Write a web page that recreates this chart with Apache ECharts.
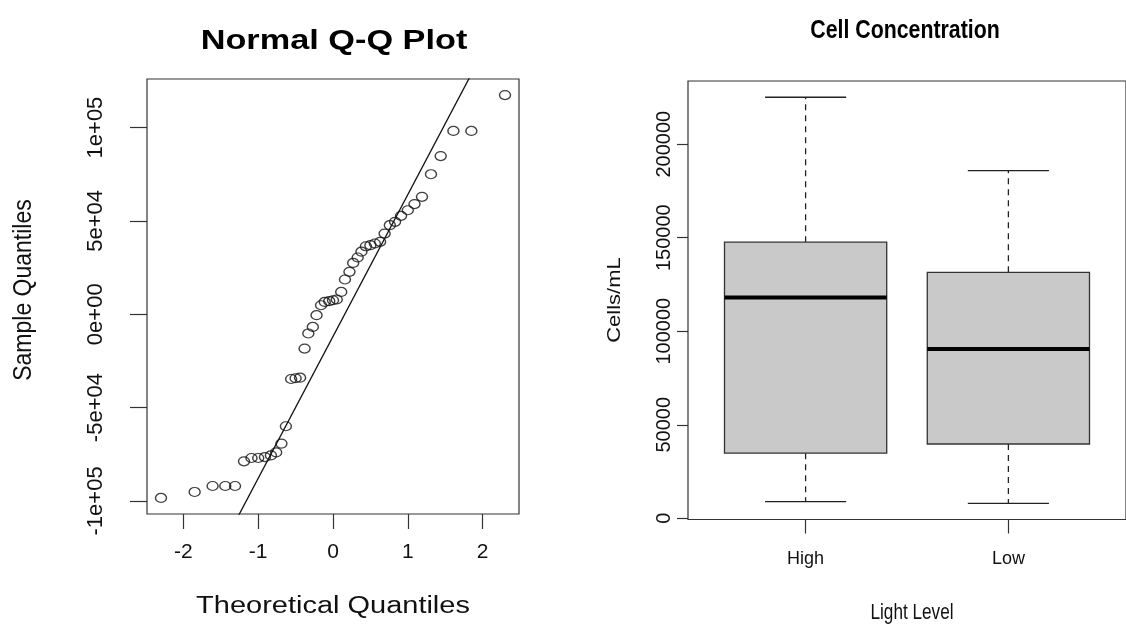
<!DOCTYPE html>
<html>
<head>
<meta charset="utf-8">
<style>
  html, body { margin: 0; padding: 0; background: #ffffff; }
  #chart { width: 1126px; height: 626px; }
</style>
<script src="https://cdn.jsdelivr.net/npm/echarts@6/dist/echarts.min.js"></script>
</head>
<body>
<div id="chart"></div>
<script>
// ---------- Normal Q-Q plot data ----------
const qqTheoretical = [-2.30,-1.85,-1.61,-1.44,-1.31,-1.19,-1.09,-1.00,-0.91,-0.83,-0.76,-0.69,-0.63,-0.56,-0.50,-0.44,-0.38,-0.33,-0.27,-0.22,-0.16,-0.11,-0.05,0.00,0.05,0.11,0.16,0.22,0.27,0.33,0.38,0.44,0.50,0.56,0.63,0.69,0.76,0.83,0.91,1.00,1.09,1.19,1.31,1.44,1.61,1.85,2.30];
const qqSample = [-98400,-95200,-92000,-92000,-92000,-78800,-77000,-77000,-76500,-75600,-74000,-69300,-60000,-34700,-34300,-34000,-18400,-10300,-6800,-500,4800,6600,7000,7500,7900,11950,18600,22700,27500,30400,33500,36400,37000,37900,38800,43200,47700,49500,52700,55700,59000,62900,75000,84700,98200,98200,117400];
const qqLineX = [-2.4, 2.4];
const qqLineY = [-194200, 170400];
const qqXTicks = [-2, -1, 0, 1, 2];
const qqYTicks = [-100000, -50000, 0, 50000, 100000];
const qqYTickLabels = ['-1e+05', '-5e+04', '0e+00', '5e+04', '1e+05'];

// ---------- Box plot data ----------
const lightLevels = ['High', 'Low'];
const lowerWhisker = [8900, 8000];
const firstQuartile = [34800, 39700];
const medians = [118000, 90500];
const thirdQuartile = [147600, 131500];
const upperWhisker = [225100, 185900];
const boxYTicks = [0, 50000, 100000, 150000, 200000];

const qqPoints = qqTheoretical.map((x, i) => [x, qqSample[i]]);
const qqLine = qqLineX.map((x, i) => [x, qqLineY[i]]);
const boxData = lightLevels.map((g, i) => [i + 1, lowerWhisker[i], firstQuartile[i], medians[i], thirdQuartile[i], upperWhisker[i]]);

const AX = '#333333';
const FONT = "'Liberation Sans', Arial, sans-serif";

const chart = echarts.init(document.getElementById('chart'), null, { renderer: 'canvas' });

function nearestLabel(v, vals, labels) {
  let best = 0;
  for (let i = 1; i < vals.length; i++) if (Math.abs(vals[i] - v) < Math.abs(vals[best] - v)) best = i;
  return labels[best];
}

const option = {
  animation: false,
  backgroundColor: '#ffffff',
  graphic: [
    { type: 'text', x: 334, y: 42, scaleX: 1.27, style: { text: 'Normal Q-Q Plot', font: "bold 27px 'Liberation Sans', Arial, sans-serif", fill: '#000', align: 'center', verticalAlign: 'middle' } },
    { type: 'text', x: 333, y: 607, scaleX: 1.26, style: { text: 'Theoretical Quantiles', font: "23px 'Liberation Sans', Arial, sans-serif", fill: '#111', align: 'center', verticalAlign: 'middle' } },
    { type: 'text', x: 24, y: 290, rotation: Math.PI / 2, scaleY: 1.15, style: { text: 'Sample Quantiles', font: "23px 'Liberation Sans', Arial, sans-serif", fill: '#111', align: 'center', verticalAlign: 'middle' } },
    { type: 'text', x: 905, y: 31, scaleX: 0.82, style: { text: 'Cell Concentration', font: "bold 26px 'Liberation Sans', Arial, sans-serif", fill: '#000', align: 'center', verticalAlign: 'middle' } },
    { type: 'text', x: 912, y: 613, scaleX: 0.78, style: { text: 'Light Level', font: "22px 'Liberation Sans', Arial, sans-serif", fill: '#111', align: 'center', verticalAlign: 'middle' } },
    { type: 'text', x: 615, y: 300, rotation: Math.PI / 2, scaleY: 0.85, style: { text: 'Cells/mL', font: "22px 'Liberation Sans', Arial, sans-serif", fill: '#111', align: 'center', verticalAlign: 'middle' } }
  ],
  grid: [
    { left: 147, top: 79, right: 607, bottom: 112, show: true, borderColor: AX, borderWidth: 1.2, backgroundColor: 'transparent' },
    { left: 688, top: 81, right: -10, bottom: 106.5, show: true, borderColor: AX, borderWidth: 1.2, backgroundColor: 'transparent' }
  ],
  xAxis: [
    {
      gridIndex: 0, type: 'value', min: -2.487, max: 2.487,
      axisLine: { show: false, onZero: false },
      splitLine: { show: false },
      axisTick: { show: true, length: 15, lineStyle: { color: AX, width: 1.2 }, customValues: qqXTicks },
      axisLabel: { show: true, customValues: qqXTicks, margin: 28, color: '#111', fontSize: 21, fontFamily: FONT, formatter: v => String(Math.round(v)) }
    },
    {
      gridIndex: 1, type: 'value', min: 0.42, max: 2.58,
      axisLine: { show: false, onZero: false },
      splitLine: { show: false },
      axisTick: { show: true, length: 14, lineStyle: { color: AX, width: 1.2 }, customValues: [1, 2] },
      axisLabel: { show: true, customValues: [1, 2], margin: 31, color: '#111', fontSize: 18, fontFamily: FONT, formatter: v => lightLevels[Math.round(v) - 1] }
    }
  ],
  yAxis: [
    {
      gridIndex: 0, type: 'value', min: -107000, max: 126000,
      axisLine: { show: false, onZero: false },
      splitLine: { show: false },
      axisTick: { show: true, length: 17, lineStyle: { color: AX, width: 1.2 }, customValues: qqYTicks },
      axisLabel: { show: true, customValues: qqYTicks, rotate: 90, margin: 40, color: '#111', fontSize: 22, fontFamily: FONT, formatter: v => nearestLabel(v, qqYTicks, qqYTickLabels) }
    },
    {
      gridIndex: 1, type: 'value', min: -660, max: 233800,
      axisLine: { show: false, onZero: false },
      splitLine: { show: false },
      axisTick: { show: true, length: 11, lineStyle: { color: AX, width: 1.2 }, customValues: boxYTicks },
      axisLabel: { show: true, customValues: boxYTicks, rotate: 90, margin: 14, color: '#111', fontSize: 20, fontFamily: FONT, formatter: v => String(Math.round(v)) }
    }
  ],
  series: [
    {
      type: 'line', xAxisIndex: 0, yAxisIndex: 0, data: qqLine, clip: true,
      showSymbol: false, symbol: 'none',
      lineStyle: { color: '#111', width: 1.3 }, z: 3
    },
    {
      type: 'scatter', xAxisIndex: 0, yAxisIndex: 0, data: qqPoints,
      symbol: 'circle', symbolSize: [11, 9],
      itemStyle: { color: 'rgba(0,0,0,0)', borderColor: '#111', borderWidth: 1.3 }, z: 4
    },
    {
      type: 'custom', xAxisIndex: 1, yAxisIndex: 1, data: boxData,
      encode: { x: 0, y: [1, 2, 3, 4, 5] },
      clip: false,
      renderItem: function (params, api) {
        const x = api.value(0);
        const pLow = api.coord([x, api.value(1)]);
        const pQ1 = api.coord([x, api.value(2)]);
        const pMed = api.coord([x, api.value(3)]);
        const pQ3 = api.coord([x, api.value(4)]);
        const pHigh = api.coord([x, api.value(5)]);
        const halfBox = api.size([0.4, 0])[0];
        const halfCap = api.size([0.2, 0])[0];
        const cx = pMed[0];
        const solid = { stroke: '#222', lineWidth: 1.3, fill: null };
        const dashed = { stroke: '#222', lineWidth: 1.3, fill: null, lineDash: [6, 5] };
        return {
          type: 'group',
          children: [
            { type: 'line', shape: { x1: cx, y1: pQ3[1], x2: cx, y2: pHigh[1] }, style: dashed },
            { type: 'line', shape: { x1: cx, y1: pQ1[1], x2: cx, y2: pLow[1] }, style: dashed },
            { type: 'line', shape: { x1: cx - halfCap, y1: pHigh[1], x2: cx + halfCap, y2: pHigh[1] }, style: solid },
            { type: 'line', shape: { x1: cx - halfCap, y1: pLow[1], x2: cx + halfCap, y2: pLow[1] }, style: solid },
            { type: 'rect', shape: { x: cx - halfBox, y: pQ3[1], width: halfBox * 2, height: pQ1[1] - pQ3[1] }, style: { fill: '#c9c9c9', stroke: '#333', lineWidth: 1.3 } },
            { type: 'line', shape: { x1: cx - halfBox, y1: pMed[1], x2: cx + halfBox, y2: pMed[1] }, style: { stroke: '#000', lineWidth: 4 } }
          ]
        };
      }
    }
  ]
};

chart.setOption(option);
</script>
</body>
</html>
